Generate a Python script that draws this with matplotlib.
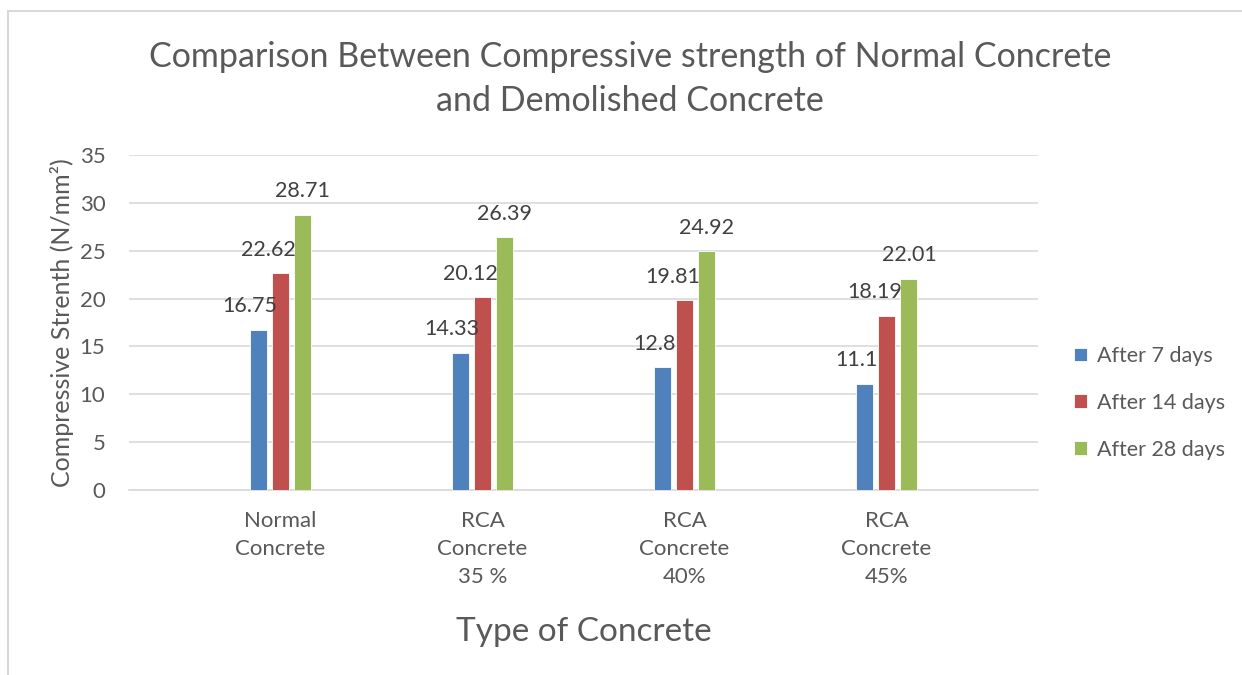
import matplotlib.pyplot as plt
import numpy as np
from matplotlib.patches import Rectangle

# Data
categories = ['Normal\nConcrete', 'RCA\nConcrete\n35 %', 'RCA\nConcrete\n40%', 'RCA\nConcrete\n45%']
series_names = ['After 7 days', 'After 14 days', 'After 28 days']
after_7 = [16.75, 14.33, 12.8, 11.1]
after_14 = [22.62, 20.12, 19.81, 18.19]
after_28 = [28.71, 26.39, 24.92, 22.01]
yticks = [0, 5, 10, 15, 20, 25, 30, 35]

colors = ['#4F81BD', '#C0504D', '#9BBB59']
text_color = '#595959'
grid_color = '#D9D9D9'

plt.rcParams['font.family'] = ['Lato', 'DejaVu Sans']

fig = plt.figure(figsize=(12.42, 6.75), dpi=100)

# chart area border (Excel style)
fig.patches.append(Rectangle((8 / 1242, -0.05), 1.1, (675 - 11) / 675 + 0.05,
                             transform=fig.transFigure, fill=False,
                             edgecolor=grid_color, linewidth=1.5))

ax = fig.add_axes([129 / 1242, (675 - 490) / 675, (1038 - 129) / 1242, (490 - 155) / 675])

x = np.arange(len(categories))
width = 0.084
pitch = 0.111
label_shift = [-8, -12, 0]  # px, labels nudged like the original

for i, (vals, name) in enumerate(zip([after_7, after_14, after_28], series_names)):
    pos = x + (i - 1) * pitch
    bars = ax.bar(pos, vals, width, color=colors[i], label=name,
                  edgecolor='white', linewidth=0.6, zorder=3)
    for b, v in zip(bars, vals):
        ax.annotate(f'{v:g}', (b.get_x() + b.get_width() / 2, v),
                    xytext=(label_shift[i] * 0.72, 10), textcoords='offset points',
                    ha='center', va='bottom', fontsize=15.5, color='#404040', zorder=4)

ax.set_xlim(-0.75, len(categories) - 0.25)
ax.set_ylim(0, 35)
ax.set_yticks(yticks)
ax.set_xticks(x)
ax.set_xticklabels(categories, linespacing=1.5)
ax.tick_params(axis='both', length=0, labelsize=16, colors=text_color)
ax.tick_params(axis='x', pad=15)
ax.tick_params(axis='y', pad=17)

ax.yaxis.grid(True, color=grid_color, linewidth=1.2, zorder=0)
ax.set_axisbelow(True)
for s in ['top', 'right', 'left']:
    ax.spines[s].set_visible(False)
ax.spines['bottom'].set_color(grid_color)
ax.spines['bottom'].set_linewidth(1.2)

ax.set_ylabel('Compressive Strenth (N/mm²)', fontsize=18, color=text_color, labelpad=4)
ax.set_xlabel('Type of Concrete', fontsize=24, color=text_color, labelpad=22)

fig.text(630 / 1242, 1 - 79 / 675, 'Comparison Between Compressive strength of Normal Concrete\nand Demolished Concrete',
         ha='center', va='center', fontsize=24.5, color=text_color, linespacing=1.45)

ax.legend(loc='center left', bbox_to_anchor=(1.018, 0.26), frameon=False,
          fontsize=15.5, labelcolor=text_color, handlelength=0.6, handleheight=0.6,
          handletextpad=0.5, labelspacing=1.25)

plt.savefig('out.png', dpi=100)
